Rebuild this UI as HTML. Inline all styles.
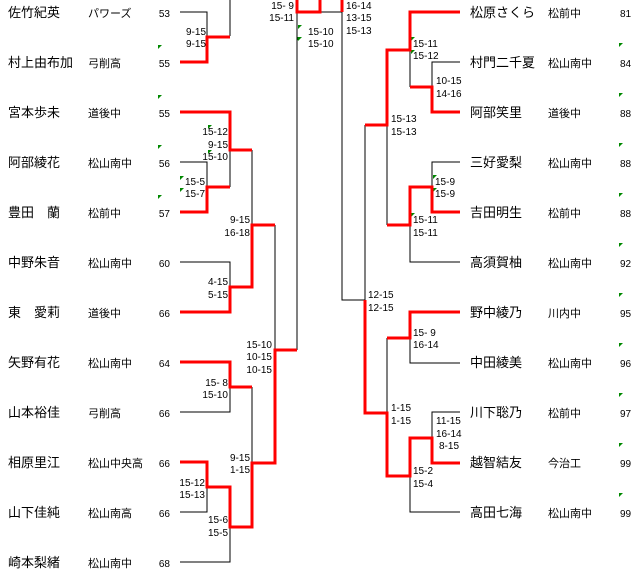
<!DOCTYPE html>
<html><head><meta charset="utf-8"><style>
html,body{margin:0;padding:0;background:#fff;}
svg{display:block;}
.n{font-family:"Liberation Sans","Noto Sans CJK JP",sans-serif;font-size:13px;fill:#000;}
.s{font-family:"Liberation Sans","Noto Sans CJK JP",sans-serif;font-size:11px;fill:#000;}
.d{font-family:"Liberation Sans Narrow","Liberation Sans",sans-serif;font-size:10px;fill:#000;}
.k{fill:none;stroke:#000;stroke-width:1;}
.r{fill:none;stroke:#f00;stroke-width:3;}
.g{fill:#080;}
</style></head><body>
<svg width="640" height="578" xmlns="http://www.w3.org/2000/svg">
<!-- left names -->
<g class="n">
<text x="8" y="17">佐竹紀英</text><text x="8" y="67">村上由布加</text><text x="8" y="117">宮本歩未</text>
<text x="8" y="167">阿部綾花</text><text x="8" y="217">豊田　蘭</text><text x="8" y="267">中野朱音</text>
<text x="8" y="317">東　愛莉</text><text x="8" y="367">矢野有花</text><text x="8" y="417">山本裕佳</text>
<text x="8" y="467">相原里江</text><text x="8" y="517">山下佳純</text><text x="8" y="567">崎本梨緒</text>
</g>
<g class="s">
<text x="88" y="17">パワーズ</text><text x="88" y="67">弓削高</text><text x="88" y="117">道後中</text>
<text x="88" y="167">松山南中</text><text x="88" y="217">松前中</text><text x="88" y="267">松山南中</text>
<text x="88" y="317">道後中</text><text x="88" y="367">松山南中</text><text x="88" y="417">弓削高</text>
<text x="88" y="467">松山中央高</text><text x="88" y="517">松山南高</text><text x="88" y="567">松山南中</text>
</g>
<g class="d" text-anchor="end">
<text x="170" y="17">53</text><text x="170" y="67">55</text><text x="170" y="117">55</text>
<text x="170" y="167">56</text><text x="170" y="217">57</text><text x="170" y="267">60</text>
<text x="170" y="317">66</text><text x="170" y="367">64</text><text x="170" y="417">66</text>
<text x="170" y="467">66</text><text x="170" y="517">66</text><text x="170" y="567">68</text>
</g>
<!-- right names -->
<g class="n">
<text x="470" y="17">松原さくら</text><text x="470" y="67">村門二千夏</text><text x="470" y="117">阿部笑里</text>
<text x="470" y="167">三好愛梨</text><text x="470" y="217">吉田明生</text><text x="470" y="267">高須賀柚</text>
<text x="470" y="317">野中綾乃</text><text x="470" y="367">中田綾美</text><text x="470" y="417">川下聡乃</text>
<text x="470" y="467">越智結友</text><text x="470" y="517">高田七海</text>
</g>
<g class="s">
<text x="548" y="17">松前中</text><text x="548" y="67">松山南中</text><text x="548" y="117">道後中</text>
<text x="548" y="167">松山南中</text><text x="548" y="217">松前中</text><text x="548" y="267">松山南中</text>
<text x="548" y="317">川内中</text><text x="548" y="367">松山南中</text><text x="548" y="417">松前中</text>
<text x="548" y="467">今治工</text><text x="548" y="517">松山南中</text>
</g>
<g class="d">
<text x="620" y="17">81</text><text x="620" y="67">84</text><text x="620" y="117">88</text>
<text x="620" y="167">88</text><text x="620" y="217">88</text><text x="620" y="267">92</text>
<text x="620" y="317">95</text><text x="620" y="367">96</text><text x="620" y="417">97</text>
<text x="620" y="467">99</text><text x="620" y="517">99</text>
</g>
<!-- green markers -->
<g class="g">
<path d="M619,43h4l-4,4z"/><path d="M619,93h4l-4,4z"/><path d="M619,143h4l-4,4z"/><path d="M619,193h4l-4,4z"/>
<path d="M619,243h4l-4,4z"/><path d="M619,293h4l-4,4z"/><path d="M619,343h4l-4,4z"/><path d="M619,393h4l-4,4z"/>
<path d="M619,443h4l-4,4z"/><path d="M619,493h4l-4,4z"/>
<path d="M158,45h4l-4,4z"/><path d="M158,95h4l-4,4z"/><path d="M158,145h4l-4,4z"/><path d="M158,195h4l-4,4z"/>
<path d="M180,176h4l-4,4z"/><path d="M180,188h4l-4,4z"/><path d="M208,125h4l-4,4z"/><path d="M208,150h4l-4,4z"/>
<path d="M297,37h4l-4,4z"/><path d="M298,25h4l-4,4z"/><path d="M298,37h4l-4,4z"/>
<path d="M411,37h4l-4,4z"/><path d="M411,50h4l-4,4z"/><path d="M433,175h4l-4,4z"/><path d="M433,188h4l-4,4z"/><path d="M411,213h4l-4,4z"/>
</g>
<!-- left black lines -->
<g class="k">
<path d="M180,12H207V37"/><path d="M230,36V0"/>
<path d="M180,162H207V187"/><path d="M230,150V187"/><path d="M252,150V225"/>
<path d="M180,262H230V287"/><path d="M275,225V350"/>
<path d="M180,412H230V387"/><path d="M252,387V463"/>
<path d="M180,512H207V487"/><path d="M180,562H230V527"/>
<path d="M297,0V350"/><path d="M320,12H342"/><path d="M342,12V300H365"/>
<!-- right -->
<path d="M410,50V87"/><path d="M460,62H432V87"/><path d="M365,125V300"/>
<path d="M387,125V225"/><path d="M460,162H432V187"/><path d="M410,225V262H460"/>
<path d="M387,338V413"/><path d="M410,338V363H460"/><path d="M460,412H432V438"/><path d="M410,476V512H460"/>
</g>
<!-- red lines -->
<g class="r">
<path d="M180,62H207V37H230"/>
<path d="M180,112H230V150H252"/>
<path d="M180,212H207V187H230"/>
<path d="M180,312H230V287H252V225H275"/>
<path d="M180,362H230V387H252"/>
<path d="M180,462H207V487H230V527H252V463H275V350H297"/>
<path d="M297,0V12H320V0"/><path d="M342,0V12"/>
<path d="M460,12H410V50H387V125H365"/>
<path d="M460,112H432V87H410"/>
<path d="M460,212H432V187H410V225H387"/>
<path d="M365,300V413H387V476H410V438H432V463H460"/>
<path d="M460,312H410V338H387"/>
</g>
<!-- scores -->
<g class="d">
<text x="186" y="35" text-anchor="end" transform="translate(20,0)">9-15</text>
<text x="186" y="47" text-anchor="end" transform="translate(20,0)">9-15</text>
<text x="228" y="135" text-anchor="end">15-12</text><text x="228" y="148" text-anchor="end">9-15</text><text x="228" y="160" text-anchor="end">15-10</text>
<text x="205" y="185" text-anchor="end">15-5</text><text x="205" y="197" text-anchor="end">15-7</text>
<text x="250" y="223" text-anchor="end">9-15</text><text x="250" y="236" text-anchor="end">16-18</text>
<text x="228" y="285" text-anchor="end">4-15</text><text x="228" y="298" text-anchor="end">5-15</text>
<text x="272" y="348" text-anchor="end">15-10</text><text x="272" y="360" text-anchor="end">10-15</text><text x="272" y="373" text-anchor="end">10-15</text>
<text x="228" y="386" text-anchor="end">15- 8</text><text x="228" y="398" text-anchor="end">15-10</text>
<text x="250" y="461" text-anchor="end">9-15</text><text x="250" y="473" text-anchor="end">1-15</text>
<text x="205" y="486" text-anchor="end">15-12</text><text x="205" y="498" text-anchor="end">15-13</text>
<text x="228" y="523" text-anchor="end">15-6</text><text x="228" y="536" text-anchor="end">15-5</text>
<text x="294" y="9" text-anchor="end">15- 9</text><text x="294" y="21" text-anchor="end">15-11</text>
<text x="308" y="35">15-10</text><text x="308" y="47">15-10</text>
<text x="346" y="9">16-14</text><text x="346" y="21">13-15</text><text x="346" y="34">15-13</text>
<text x="413" y="47">15-11</text><text x="413" y="59">15-12</text>
<text x="436" y="84">10-15</text><text x="436" y="97">14-16</text>
<text x="391" y="122">15-13</text><text x="391" y="135">15-13</text>
<text x="435" y="185">15-9</text><text x="435" y="197">15-9</text>
<text x="413" y="223">15-11</text><text x="413" y="236">15-11</text>
<text x="368" y="298">12-15</text><text x="368" y="311">12-15</text>
<text x="413" y="336">15- 9</text><text x="413" y="348">16-14</text>
<text x="391" y="411">1-15</text><text x="391" y="424">1-15</text>
<text x="436" y="424">11-15</text><text x="436" y="437">16-14</text><text x="439" y="449">8-15</text>
<text x="413" y="474">15-2</text><text x="413" y="487">15-4</text>
</g>
</svg>
</body></html>
